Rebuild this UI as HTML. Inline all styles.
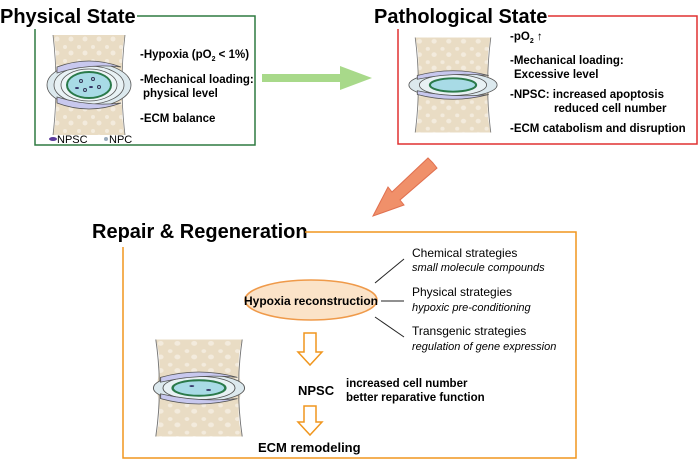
<!DOCTYPE html>
<html><head><meta charset="utf-8"><style>
body{margin:0;background:#fff;}
svg{display:block;font-family:"Liberation Sans",sans-serif;}
.b{font-weight:bold;}
</style></head><body>
<svg width="700" height="467" viewBox="0 0 700 467">
<defs>
<pattern id="bone" width="14" height="14" patternUnits="userSpaceOnUse">
<rect width="14" height="14" fill="#e9dcc4"/>
<circle cx="4" cy="4" r="2" fill="#f3ebdd"/><circle cx="10" cy="10" r="2.5" fill="#f3ebdd"/>
</pattern>
<g id="disc">
<path d="M-36,-50 Q-30,-25 -36,0 L36,0 Q30,-25 36,-50 Z" fill="url(#bone)"/>
<path d="M-36,50 Q-30,25 -36,0 L36,0 Q30,25 36,50 Z" fill="url(#bone)"/>
<path d="M-36,-50 Q-30,0 -36,50 M36,-50 Q30,0 36,50" fill="none" stroke="#777" stroke-width="0.8"/>
<ellipse cx="0" cy="0" rx="42" ry="22" fill="#dce9ee" stroke="#555" stroke-width="0.8"/>
<ellipse cx="0" cy="0" rx="35" ry="19" fill="#e8f1f4" stroke="#555" stroke-width="0.8"/>
<ellipse cx="0" cy="0" rx="28" ry="16" fill="#eef5f7" stroke="#555" stroke-width="0.8"/>
<path d="M-32,-18 Q0,-30 32,-18 Q0,-22 -32,-12Z" fill="#c8c8ee" stroke="#555" stroke-width="0.8"/>
<path d="M-32,18 Q0,30 32,18 Q0,22 -32,12Z" fill="#c8c8ee" stroke="#555" stroke-width="0.8"/>
<ellipse cx="0" cy="0" rx="22" ry="13" fill="#a8dbe6" stroke="#2a7a4a" stroke-width="2"/>
<circle cx="-8" cy="-4" r="1.5" fill="none" stroke="#335"/><circle cx="4" cy="-6" r="1.5" fill="none" stroke="#335"/>
<circle cx="10" cy="2" r="1.5" fill="none" stroke="#335"/><circle cx="-4" cy="5" r="1.5" fill="none" stroke="#335"/>
<ellipse cx="2" cy="2" rx="2" ry="1" fill="#336"/><ellipse cx="-12" cy="3" rx="2" ry="1" fill="#336"/>
</g>
</defs>

<!-- Physical -->
<text x="0" y="23" class="b" font-size="20">Physical State</text>
<polyline points="137,16 255,16 255,145 35,145 35,29" fill="none" stroke="#2e7a40" stroke-width="1.5"/>
<use href="#disc" x="89" y="85"/>
<text x="140" y="58" class="b" font-size="11.5">-Hypoxia (pO<tspan font-size="7" dy="3">2</tspan><tspan dy="-3"> &lt; 1%)</tspan></text>
<text x="140" y="83" class="b" font-size="11.5">-Mechanical loading:</text>
<text x="143" y="97" class="b" font-size="11.5">physical level</text>
<text x="140" y="122" class="b" font-size="11.5">-ECM balance</text>
<ellipse cx="53" cy="139" rx="4" ry="2" fill="#5a3a9a"/>
<text x="57" y="143" font-size="11">NPSC</text>
<circle cx="106" cy="139" r="2" fill="#9ab"/>
<text x="109" y="143" font-size="11">NPC</text>

<!-- green arrow -->
<polygon points="262,74 340,74 340,66 372,78 340,90 340,82 262,82" fill="#a8d98a"/>

<!-- Pathological -->
<text x="374" y="23" class="b" font-size="20">Pathological State</text>
<polyline points="548,16 697,16 697,144 398,144 398,29" fill="none" stroke="#e03030" stroke-width="1.5"/>
<g transform="translate(453,85) scale(1.05,0.95)">
<path d="M-36,-50 Q-30,-25 -36,0 L36,0 Q30,-25 36,-50 Z" fill="url(#bone)"/>
<path d="M-36,50 Q-30,25 -36,0 L36,0 Q30,25 36,50 Z" fill="url(#bone)"/>
<path d="M-36,-50 Q-30,0 -36,50 M36,-50 Q30,0 36,50" fill="none" stroke="#777" stroke-width="0.8"/>
<ellipse rx="42" ry="13" fill="#dce9ee" stroke="#555" stroke-width="0.8"/>
<ellipse rx="32" ry="11" fill="#e8f1f4" stroke="#555" stroke-width="0.8"/>
<path d="M-34,-10 Q0,-20 34,-10 Q0,-14 -34,-6Z" fill="#c8c8ee" stroke="#555" stroke-width="0.8"/>
<path d="M-34,10 Q0,20 34,10 Q0,14 -34,6Z" fill="#c8c8ee" stroke="#555" stroke-width="0.8"/>
<ellipse rx="22" ry="7" fill="#a8dbe6" stroke="#2a7a4a" stroke-width="2"/>
</g>
<text x="510" y="40" class="b" font-size="11.5">-pO<tspan font-size="7" dy="3">2</tspan><tspan dy="-3"> ↑</tspan></text>
<text x="510" y="64" class="b" font-size="11.5">-Mechanical loading:</text>
<text x="514" y="78" class="b" font-size="11.5">Excessive level</text>
<text x="510" y="98" class="b" font-size="11.5">-NPSC: increased apoptosis</text>
<text x="554" y="112" class="b" font-size="11.5">reduced cell number</text>
<text x="510" y="132" class="b" font-size="11.5">-ECM catabolism and disruption</text>

<!-- orange diagonal arrow -->
<polygon points="433,163 437,168 400,200 404,205 373,216 388,187 392,192 428,158" fill="#f0906a" stroke="#e07050" stroke-width="1"/>

<!-- Repair -->
<text x="92" y="238" class="b" font-size="20">Repair &amp; Regeneration</text>
<polyline points="305,232 576,232 576,458 123,458 123,247" fill="none" stroke="#f0961e" stroke-width="1.5"/>
<ellipse cx="311" cy="300" rx="66" ry="20" fill="#fbe3c8" stroke="#ef9a4a" stroke-width="1.5"/>
<text x="311" y="305" class="b" font-size="12" text-anchor="middle">Hypoxia reconstruction</text>
<line x1="375" y1="283" x2="404" y2="259" stroke="#222"/>
<line x1="381" y1="301" x2="404" y2="301" stroke="#222"/>
<line x1="375" y1="317" x2="404" y2="337" stroke="#222"/>
<text x="412" y="257" font-size="12">Chemical strategies</text>
<text x="412" y="271" font-size="11" font-style="italic">small molecule compounds</text>
<text x="412" y="296" font-size="12">Physical strategies</text>
<text x="412" y="311" font-size="11" font-style="italic">hypoxic pre-conditioning</text>
<text x="412" y="335" font-size="12">Transgenic strategies</text>
<text x="412" y="350" font-size="11" font-style="italic">regulation of gene expression</text>

<g transform="translate(199,388) scale(1.2,0.97)">
<path d="M-36,-50 Q-30,-25 -36,0 L36,0 Q30,-25 36,-50 Z" fill="url(#bone)"/>
<path d="M-36,50 Q-30,25 -36,0 L36,0 Q30,25 36,50 Z" fill="url(#bone)"/>
<path d="M-36,-50 Q-30,0 -36,50 M36,-50 Q30,0 36,50" fill="none" stroke="#777" stroke-width="0.8"/>
<ellipse rx="38" ry="14" fill="#dce9ee" stroke="#555" stroke-width="0.8"/>
<ellipse rx="30" ry="12" fill="#e8f1f4" stroke="#555" stroke-width="0.8"/>
<path d="M-32,-11 Q0,-22 32,-11 Q0,-15 -32,-6Z" fill="#c8c8ee" stroke="#555" stroke-width="0.8"/>
<path d="M-32,11 Q0,22 32,11 Q0,15 -32,6Z" fill="#c8c8ee" stroke="#555" stroke-width="0.8"/>
<ellipse rx="22" ry="8" fill="#a8dbe6" stroke="#2a7a4a" stroke-width="2"/>
<ellipse cx="-6" cy="-2" rx="2" ry="1" fill="#336"/><ellipse cx="8" cy="2" rx="2" ry="1" fill="#336"/>
</g>

<polygon points="304,333 316,333 316,352 322,352 310,365 298,352 304,352" fill="#fff" stroke="#f0961e" stroke-width="1.5"/>
<text x="298" y="395" class="b" font-size="13">NPSC</text>
<text x="346" y="387" class="b" font-size="11.5">increased cell number</text>
<text x="346" y="401" class="b" font-size="11.5">better reparative function</text>
<polygon points="304,406 316,406 316,422 322,422 310,435 298,422 304,422" fill="#fff" stroke="#f0961e" stroke-width="1.5"/>
<text x="258" y="452" class="b" font-size="13">ECM remodeling</text>
</svg>
</body></html>
